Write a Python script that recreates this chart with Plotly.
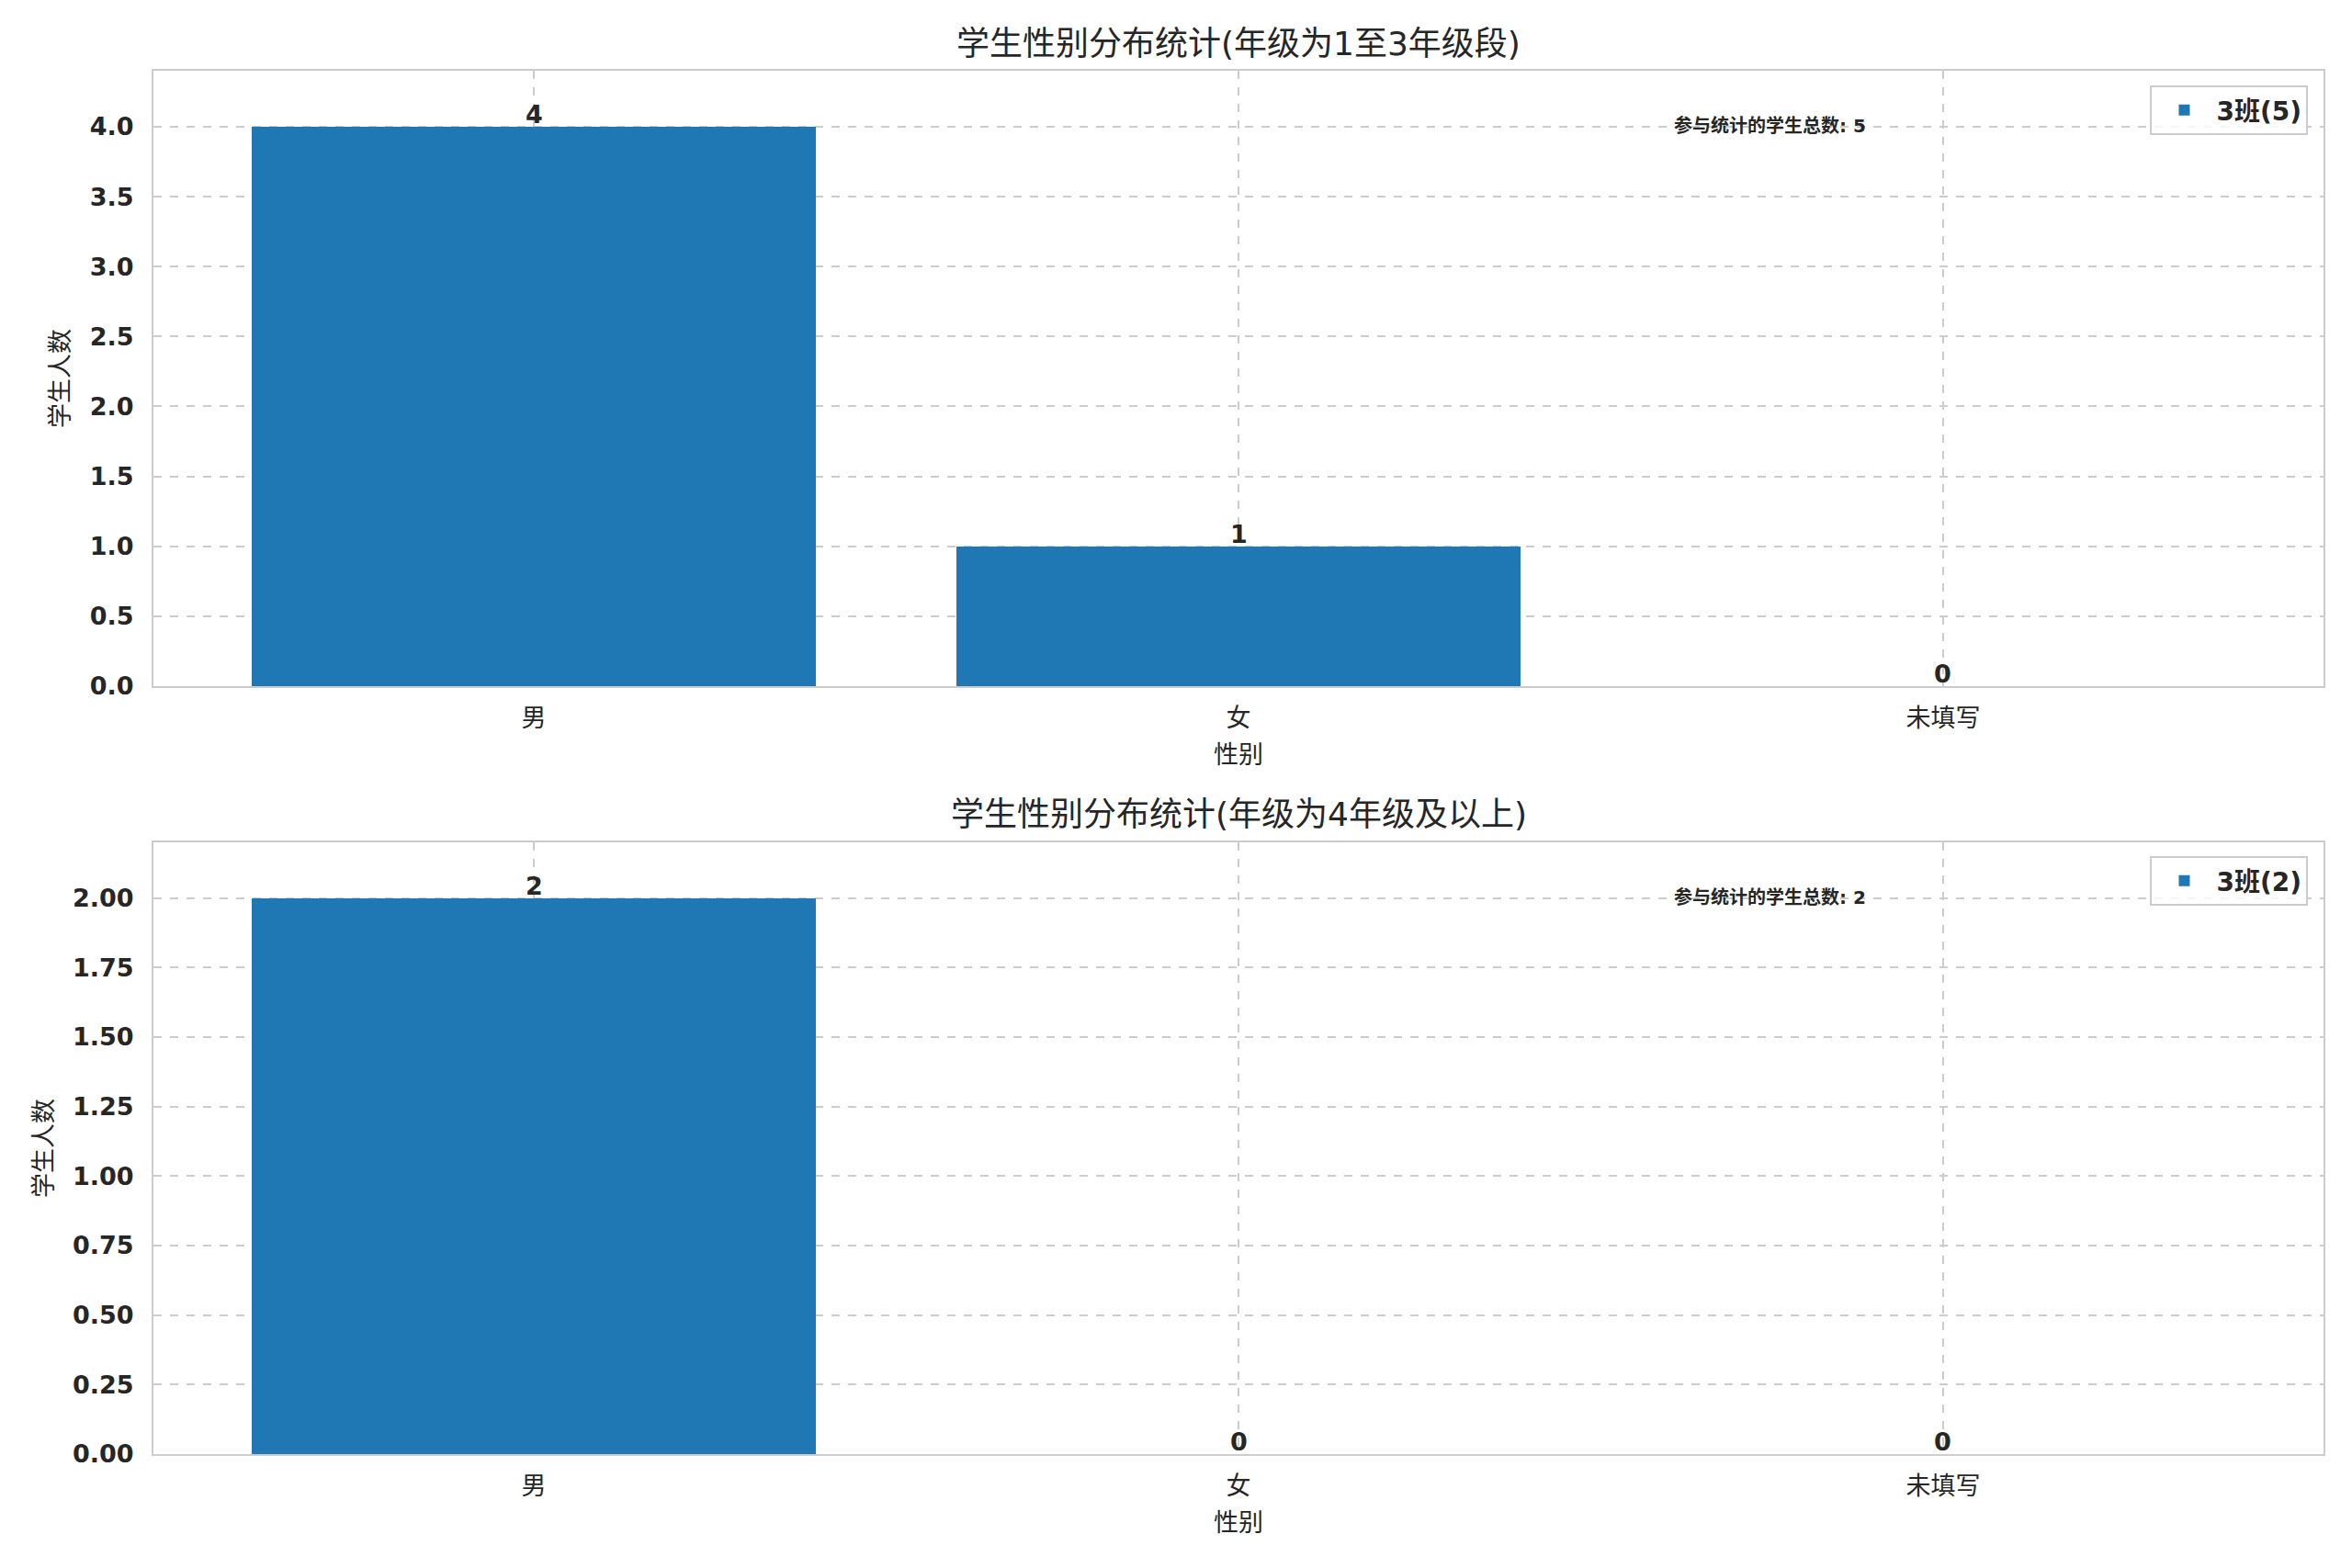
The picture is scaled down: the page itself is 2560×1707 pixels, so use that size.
import plotly.graph_objects as go
from plotly.subplots import make_subplots

categories = ["男", "女", "未填写"]
counts_group1 = [4, 1, 0]
counts_group2 = [2, 0, 0]
legend_group1 = "3班(5)"
legend_group2 = "3班(2)"
title_group1 = "学生性别分布统计(年级为1至3年级段)"
title_group2 = "学生性别分布统计(年级为4年级及以上)"
total_group1 = "参与统计的学生总数: 5"
total_group2 = "参与统计的学生总数: 2"
x_label = "性别"
y_label = "学生人数"
y_ticks1 = [0, 0.5, 1.0, 1.5, 2.0, 2.5, 3.0, 3.5, 4.0]
y_ticks2 = [0, 0.25, 0.5, 0.75, 1.0, 1.25, 1.5, 1.75, 2.0]

FONT = "DejaVu Sans, Noto Sans CJK SC, sans-serif"
TXT = "#262626"
BAR = "#1f77b4"
GRID = "#cccccc"

# page body adds an 8px offset; figure sized to fit the window
W, H = 2544, 1691
ML, MR, MT, MB = 159, 23, 69, 116
plot_h = H - MT - MB
dom1 = [(1583 - 747) / plot_h, 1.0]
dom2 = [0.0, (1583 - 917) / plot_h]

fig = make_subplots(rows=2, cols=1)

fig.add_trace(go.Bar(x=categories, y=counts_group1, width=0.8, marker=dict(color=BAR, line=dict(width=0)),
                     name=legend_group1, legend="legend"), row=1, col=1)
fig.add_trace(go.Bar(x=categories, y=counts_group2, width=0.8, marker=dict(color=BAR, line=dict(width=0)),
                     name=legend_group2, legend="legend2"), row=2, col=1)

ann = []
for xa, ya, vals in (("x", "y", counts_group1), ("x2", "y2", counts_group2)):
    for c, v in zip(categories, vals):
        ann.append(dict(x=c, y=v, xref=xa, yref=ya, text=str(v), showarrow=False,
                        yanchor="bottom", xanchor="center", yshift=-4,
                        font=dict(family=FONT, size=27, color=TXT, weight="bold")))

ann.append(dict(x=0.70, y=0.91, xref="x domain", yref="y domain", text=total_group1, showarrow=False,
                xanchor="left", yanchor="middle", font=dict(family=FONT, size=20, color=TXT, weight="bold")))
ann.append(dict(x=0.70, y=0.91, xref="x2 domain", yref="y2 domain", text=total_group2, showarrow=False,
                xanchor="left", yanchor="middle", font=dict(family=FONT, size=20, color=TXT, weight="bold")))

ann.append(dict(x=0.5, y=dom1[1], xref="paper", yref="paper", yshift=30, text=title_group1, showarrow=False,
                xanchor="center", yanchor="middle", font=dict(family=FONT, size=36, color=TXT)))
ann.append(dict(x=0.5, y=dom2[1], xref="paper", yref="paper", yshift=30, text=title_group2, showarrow=False,
                xanchor="center", yanchor="middle", font=dict(family=FONT, size=36, color=TXT)))

fig.update_layout(annotations=ann)

axis_common = dict(showline=True, mirror=True, linecolor=GRID, linewidth=2,
                   showgrid=True, gridcolor=GRID, griddash="dash", gridwidth=1.5,
                   zeroline=False, ticks="")

fig.update_xaxes(**axis_common, range=[-0.54, 2.54], ticklabelstandoff=10,
                 tickfont=dict(family=FONT, size=27, color=TXT),
                 title=dict(text=x_label, font=dict(family=FONT, size=27, color=TXT), standoff=16))
fig.update_yaxes(**axis_common, ticklabelstandoff=14,
                 tickfont=dict(family=FONT, size=27, color=TXT, weight="bold"),
                 title=dict(text=y_label, font=dict(family=FONT, size=27, color=TXT), standoff=14))

fig.update_layout(
    xaxis=dict(domain=[0, 1]),
    xaxis2=dict(domain=[0, 1]),
    yaxis=dict(domain=dom1, range=[0, 4.4], tickvals=y_ticks1, tickformat=".1f"),
    yaxis2=dict(domain=dom2, range=[0, 2.2], tickvals=y_ticks2, tickformat=".2f"),
)

legend_common = dict(xanchor="right", yanchor="top", bgcolor="rgba(255,255,255,0.8)",
                     bordercolor=GRID, borderwidth=2, itemwidth=60,
                     font=dict(family=FONT, size=28, color=TXT, weight="bold"))
fig.update_layout(
    legend=dict(x=0.993, y=(1583 - 93) / plot_h, **legend_common),
    legend2=dict(x=0.993, y=(1583 - 932) / plot_h, **legend_common),
    showlegend=True,
    width=W, height=H,
    margin=dict(l=ML, r=MR, t=MT, b=MB),
    plot_bgcolor="white", paper_bgcolor="white",
    bargap=0,
)

fig.write_html("out.html", config={"displayModeBar": False})
